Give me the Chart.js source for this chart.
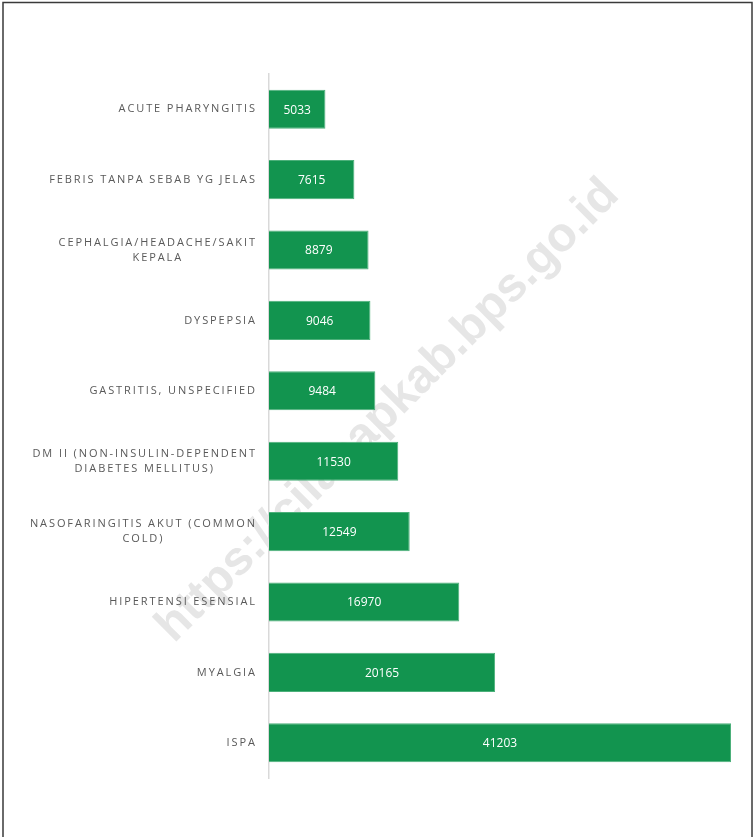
<!DOCTYPE html>
<html>
<head>
<meta charset="utf-8">
<script src="https://cdn.jsdelivr.net/npm/chart.js@4"></script>
<style>
    html, body { margin: 0; padding: 0; background: #fff; }
    #wrap { width: 754px; height: 837px; position: relative; }
</style>
</head>
<body>
<div id="wrap"><canvas id="chart"></canvas></div>
<script>
// categories, top to bottom
var diseaseLabels = [
    ['ACUTE PHARYNGITIS'],
    ['FEBRIS TANPA SEBAB YG JELAS'],
    ['CEPHALGIA/HEADACHE/SAKIT', 'KEPALA'],
    ['DYSPEPSIA'],
    ['GASTRITIS, UNSPECIFIED'],
    ['DM II (NON-INSULIN-DEPENDENT', 'DIABETES MELLITUS)'],
    ['NASOFARINGITIS AKUT (COMMON', 'COLD)'],
    ['HIPERTENSI ESENSIAL'],
    ['MYALGIA'],
    ['ISPA']
];
var caseCounts = [5033, 7615, 8879, 9046, 9484, 11530, 12549, 16970, 20165, 41203];

var watermark = 'https://cilacapkab.bps.go.id';

// frame + watermark behind the bars, labels and values on top
var decorations = {
    id: 'decorations',
    beforeDraw: function(chart) {
        var ctx = chart.ctx;
        ctx.save();
        ctx.strokeStyle = '#3a3a3a';
        ctx.lineWidth = 1.5;
        ctx.strokeRect(3, 2.5, 749, 900);
        ctx.restore();
    },
    beforeDatasetsDraw: function(chart) {
        var ctx = chart.ctx;
        ctx.save();
        ctx.translate(388, 411);
        ctx.rotate(-45 * Math.PI / 180);
        ctx.font = 'bold 48px "Liberation Sans"';
        ctx.fillStyle = '#e6e6e6';
        ctx.textAlign = 'center';
        ctx.textBaseline = 'middle';
        ctx.fillText(watermark, 0, 0);
        ctx.restore();
    },
    afterDraw: function(chart) {
        var ctx = chart.ctx;
        var yScale = chart.scales.y;
        var meta = chart.getDatasetMeta(0);

        // category labels: block right aligned, lines centered inside the block
        ctx.save();
        ctx.font = '11px "Open Sans"';
        ctx.letterSpacing = '1.9px';
        ctx.fillStyle = '#595959';
        ctx.textBaseline = 'middle';
        ctx.textAlign = 'left';
        diseaseLabels.forEach(function(lines, i) {
            var cy = yScale.getPixelForValue(i);
            var widths = lines.map(function(l) { return ctx.measureText(l).width - 1.9; });
            var blockW = Math.max.apply(null, widths);
            var right = 255;
            var lineH = 15;
            var startY = cy - (lines.length - 1) * lineH / 2;
            lines.forEach(function(l, j) {
                var x = right - blockW + (blockW - widths[j]) / 2;
                ctx.fillText(l, x, startY + j * lineH);
            });
        });
        ctx.restore();

        // values inside bars
        ctx.save();
        ctx.font = '12px "Open Sans"';
        ctx.fillStyle = '#ffffff';
        ctx.textAlign = 'center';
        ctx.textBaseline = 'middle';
        meta.data.forEach(function(bar, i) {
            ctx.fillText(String(caseCounts[i]), (bar.base + bar.x) / 2, bar.y + 1);
        });
        ctx.restore();
    }
};

new Chart(document.getElementById('chart').getContext('2d'), {
    type: 'bar',
    data: {
        labels: diseaseLabels,
        datasets: [{
            label: 'Jumlah kasus',
            data: caseCounts,
            backgroundColor: '#12944f',
            borderColor: '#4cb07a',
            borderWidth: 1,
            barPercentage: 0.74,
            categoryPercentage: 0.75
        }]
    },
    options: {
        indexAxis: 'y',
        responsive: true,
        maintainAspectRatio: false,
        animation: false,
        layout: {
            padding: { left: 0, top: 74, right: 23, bottom: 59 }
        },
        plugins: {
            legend: { display: false },
            tooltip: { enabled: false }
        },
        scales: {
            x: {
                min: 0,
                max: 41203,
                display: false
            },
            y: {
                grid: { display: false, drawTicks: false },
                border: { display: true, color: '#d9d9d9', width: 1.5 },
                ticks: { display: false },
                afterFit: function(scale) { scale.width = 269; }
            }
        }
    },
    plugins: [decorations]
});
</script>
</body>
</html>
